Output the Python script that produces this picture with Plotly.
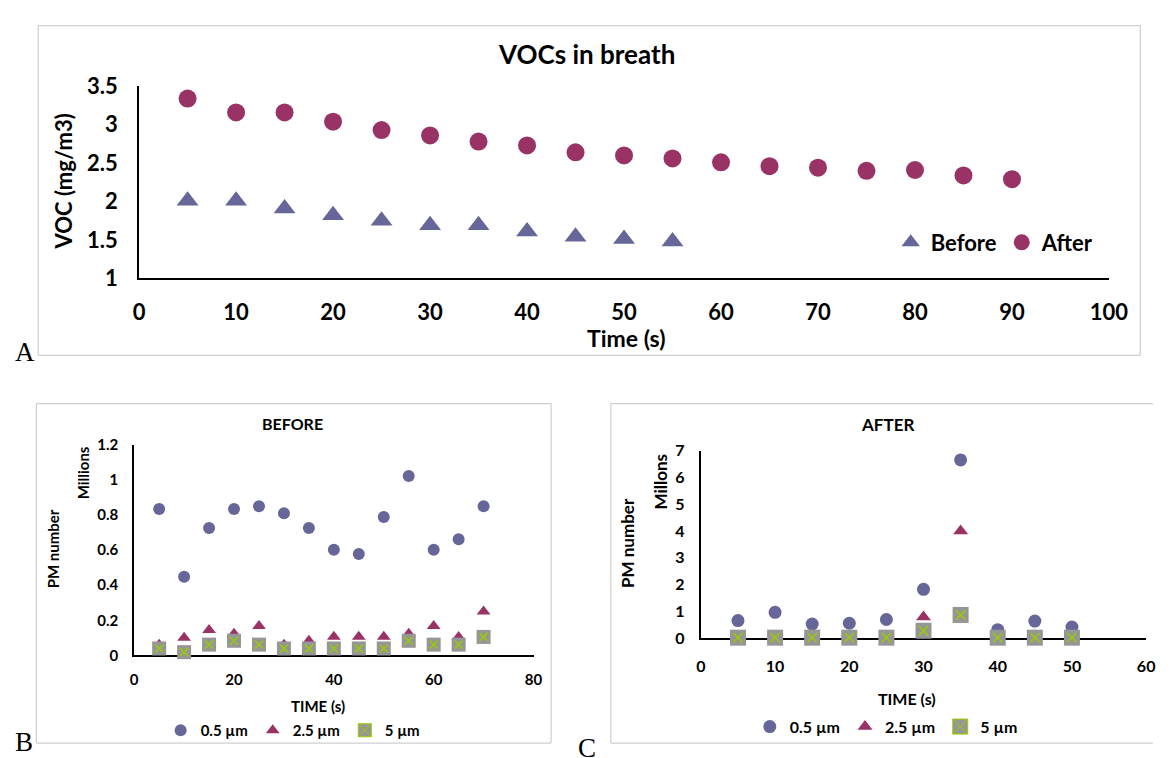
import plotly.graph_objects as go

W, H = 1172, 758

# ---- data ----
voc_t_before = [5, 10, 15, 20, 25, 30, 35, 40, 45, 50, 55]
voc_before = [2.01, 2.01, 1.91, 1.82, 1.75, 1.69, 1.69, 1.61, 1.54, 1.51, 1.48]
voc_t_after = [5, 10, 15, 20, 25, 30, 35, 40, 45, 50, 55, 60, 65, 70, 75, 80, 85, 90]
voc_after = [3.34, 3.16, 3.16, 3.04, 2.93, 2.86, 2.78, 2.73, 2.64, 2.60, 2.56,
             2.51, 2.46, 2.44, 2.40, 2.41, 2.34, 2.29]

pm_t_before = [5, 10, 15, 20, 25, 30, 35, 40, 45, 50, 55, 60, 65, 70]
pm05_before = [0.835, 0.448, 0.727, 0.835, 0.851, 0.811, 0.727, 0.602, 0.578,
               0.789, 1.024, 0.602, 0.662, 0.851]
pm25_before = [0.06, 0.10, 0.145, 0.123, 0.167, 0.06, 0.083, 0.106, 0.106,
               0.106, 0.123, 0.167, 0.105, 0.25]
pm5_before = [0.039, 0.018, 0.061, 0.083, 0.061, 0.039, 0.039, 0.039, 0.039,
              0.039, 0.083, 0.061, 0.061, 0.105]

pm_t_after = [5, 10, 15, 20, 25, 30, 35, 40, 45, 50]
pm05_after = [0.65, 0.96, 0.52, 0.55, 0.69, 1.82, 6.66, 0.31, 0.63, 0.41]
pm25_after = [0.02, 0.02, 0.02, 0.02, 0.02, 0.78, 4.0, 0.02, 0.08, 0.02]
pm5_after = [0.01, 0.01, 0.01, 0.01, 0.01, 0.27, 0.86, 0.01, 0.01, 0.01]

size_names = ["0.5 µm", "2.5 µm", "5 µm"]

# ---- style ----
BLUE = "#666699"
PLUM = "#993366"
GREY = "#969696"
LIME = "#99cc00"
FRAME = "#cfcfcf"
FONT = "Lato"
SERIF = "Liberation Serif"


def px(x):
    return x / W


def py(y):
    return 1 - y / H


fig = go.Figure()

# Panel A: VOCs in breath
fig.add_trace(go.Scatter(x=voc_t_before, y=voc_before, mode="markers", name="Before",
                         marker=dict(symbol="triangle-up", size=19, color=BLUE),
                         xaxis="x", yaxis="y", legend="legend", cliponaxis=False))
fig.add_trace(go.Scatter(x=voc_t_after, y=voc_after, mode="markers", name="After",
                         marker=dict(symbol="circle", size=18, color=PLUM),
                         xaxis="x", yaxis="y", legend="legend", cliponaxis=False))


def pm_panel(t, v05, v25, v5, xa, ya, leg, sq, sym):
    fig.add_trace(go.Scatter(x=t, y=v05, mode="markers", name=size_names[0],
                             marker=dict(symbol="circle", size=sym, color=BLUE),
                             xaxis=xa, yaxis=ya, legend=leg, cliponaxis=False))
    fig.add_trace(go.Scatter(x=t, y=v25, mode="markers", name=size_names[1],
                             marker=dict(symbol="triangle-up", size=sym, color=PLUM),
                             xaxis=xa, yaxis=ya, legend=leg, cliponaxis=False))
    fig.add_trace(go.Scatter(x=t, y=v5, mode="markers", showlegend=False,
                             marker=dict(symbol="square", size=sq, color=GREY),
                             xaxis=xa, yaxis=ya, cliponaxis=False))
    fig.add_trace(go.Scatter(x=t, y=v5, mode="markers", showlegend=False,
                             marker=dict(symbol="x-thin", size=sq * 0.58,
                                         line=dict(color=LIME, width=1.5)),
                             xaxis=xa, yaxis=ya, cliponaxis=False))
    # legend entry for the 5 µm series (grey square with a cross)
    fig.add_trace(go.Scatter(x=[None], y=[None], mode="markers", name=size_names[2],
                             marker=dict(symbol="square-x", size=sq - 1, color=GREY,
                                         line=dict(color=LIME, width=1)),
                             xaxis=xa, yaxis=ya, legend=leg))


pm_panel(pm_t_before, pm05_before, pm25_before, pm5_before, "x2", "y2", "legend2", 14, 12)
pm_panel(pm_t_after, pm05_after, pm25_after, pm5_after, "x3", "y3", "legend3", 16, 13)


def axis(domain, rng, dtick, size, standoff, anchor):
    return dict(domain=domain, range=rng, dtick=dtick, showgrid=False, zeroline=False,
                showline=True, linecolor="black", linewidth=2, ticks="",
                ticklabelstandoff=standoff, anchor=anchor, layer="below traces",
                tickfont=dict(family=FONT, size=size, color="black", weight="bold"),
                fixedrange=True)


def legend(x, y, size):
    return dict(orientation="h", x=px(x), y=py(y), xanchor="left", yanchor="middle",
                font=dict(family=FONT, size=size, color="black", weight="bold"),
                bgcolor="rgba(0,0,0,0)", itemclick=False, itemdoubleclick=False)


fig.update_layout(
    width=W, height=H, autosize=False,
    margin=dict(l=0, r=0, t=0, b=0),
    paper_bgcolor="white", plot_bgcolor="white",
    font=dict(family=FONT, color="black"),
    xaxis=axis([px(136), px(1127)], [0, 100], 10, 22, 13, "y"),
    yaxis=axis([py(274), py(75)], [1, 3.5], 0.5, 22, 15, "x"),
    xaxis2=axis([px(131), px(539)], [0, 80], 20, 15, 10, "y2"),
    yaxis2=axis([py(665), py(447)], [0, 1.2], 0.2, 15, 11, "x2"),
    xaxis3=axis([px(710), px(1165)], [0, 60], 10, 16, 13, "y3"),
    yaxis3=axis([py(647), py(453)], [0, 7], 1, 16, 11, "x3"),
    legend=legend(904, 237, 22),
    legend2=legend(158, 743, 15),
    legend3=legend(760, 739, 16),
)

# panel frames (the right-hand panel runs off the right edge, so no right side)
frame_lines = [
    (33, 12, 1159, 12), (33, 354, 1159, 354), (33, 12, 33, 354), (1159, 12, 1159, 354),
    (31, 404, 557, 404), (31, 756, 557, 756), (31, 404, 31, 756), (557, 404, 557, 756),
    (618, 404, 1172, 404), (618, 756, 1172, 756), (618, 404, 618, 756),
]
for x0, y0, x1, y1 in frame_lines:
    fig.add_shape(type="line", xref="paper", yref="paper",
                  x0=px(x0), x1=px(x1), y0=py(y0), y1=py(y1),
                  line=dict(color=FRAME, width=1.2), layer="below")


def label(text, x, y, size, angle=0, family=FONT, bold=True, yanchor="middle"):
    fig.add_annotation(text=text, x=px(x), y=py(y), xref="paper", yref="paper",
                       xanchor="center", yanchor=yanchor, showarrow=False,
                       textangle=angle,
                       font=dict(family=family, size=size, color="black",
                                 weight="bold" if bold else "normal"))


label("VOCs in breath", 593, 41, 26)
label("Time (s)", 634, 336, 23)
label("VOC (mg/m3)", 59, 174, 22, -90)
label("A", 19, 351, 27, family=SERIF, bold=False)

label("BEFORE", 293, 425, 16)
label("TIME (s)", 319, 718, 15)
label("PM number", 48, 554, 15, -90)
label("Millions", 79, 476, 15, -90)
label("B", 18, 737, 27, family=SERIF, bold=False, yanchor="top")

label("AFTER", 901, 426, 17)
label("TIME (s)", 921, 710, 16)
label("PM number", 635, 548, 17, -90)
label("Millons", 669, 485, 17, -90)
label("C", 594, 743, 27, family=SERIF, bold=False, yanchor="top")

fig.write_html("out.html")
